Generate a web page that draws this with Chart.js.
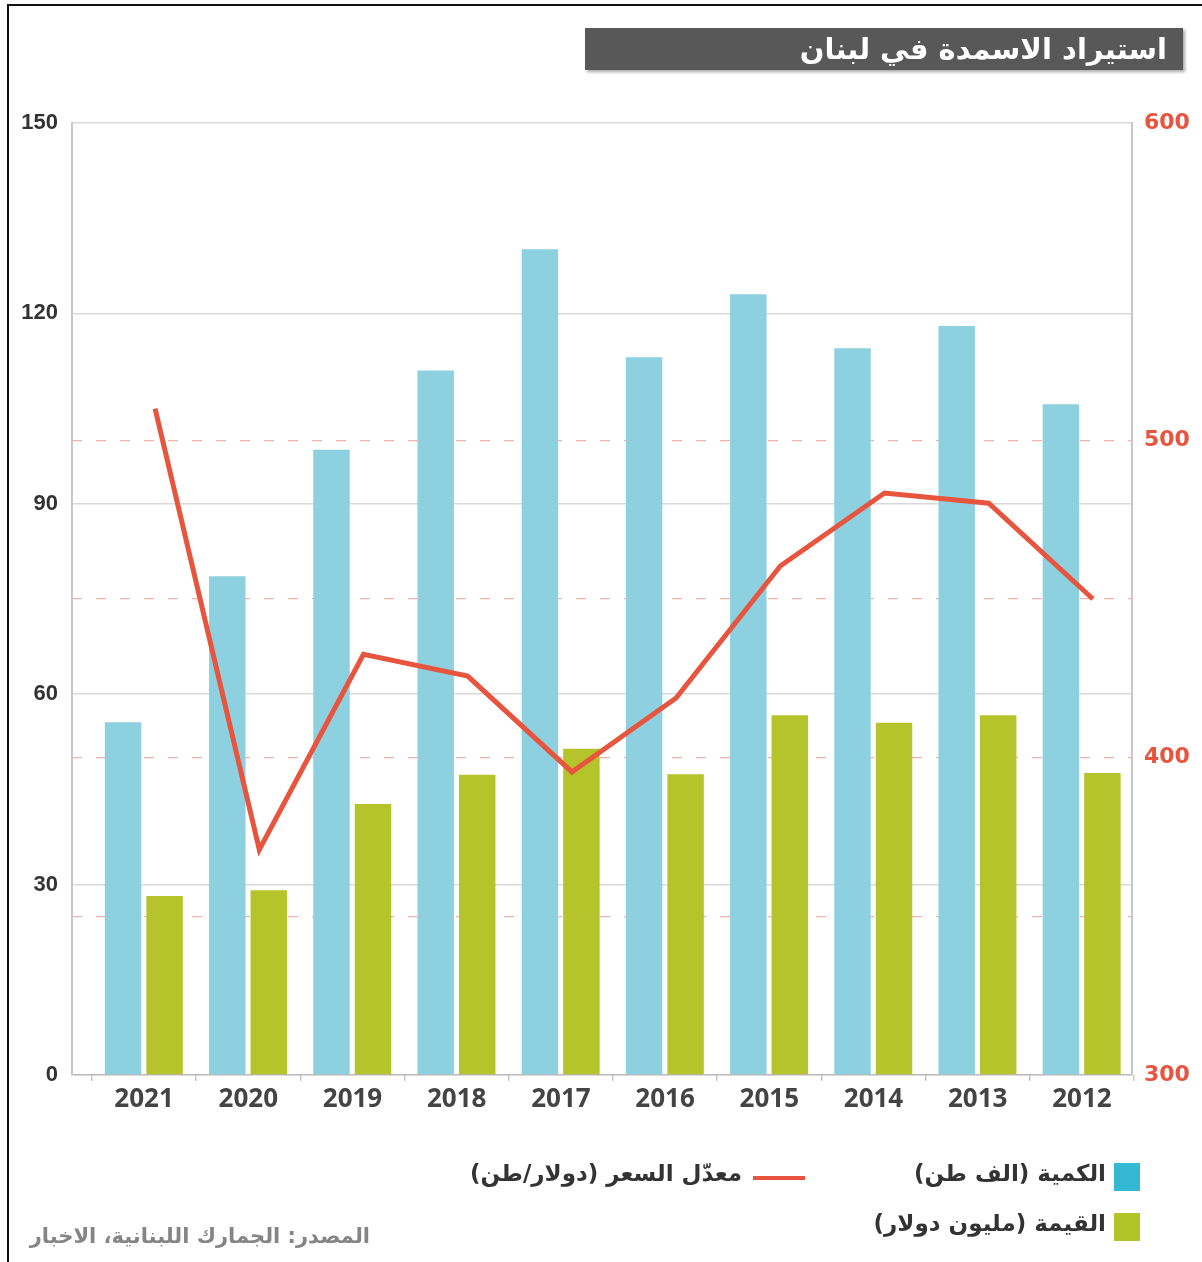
<!DOCTYPE html>
<html lang="ar">
<head>
<meta charset="utf-8">
<script src="https://cdn.jsdelivr.net/npm/chart.js@4.4.1/dist/chart.umd.min.js"></script>
<style>
    html, body { margin: 0; padding: 0; background: #fff; }
    #page { position: relative; width: 1202px; height: 1262px; overflow: hidden; font-family: "DejaVu Sans", sans-serif; }
    #cadre { position: absolute; left: 7px; top: 4px; right: -10px; bottom: -10px; border-left: 2px solid #111; border-top: 2px solid #111; }
    #chart { position: absolute; left: 0; top: 0; }
    .titre { position: absolute; left: 585px; top: 28px; width: 598px; height: 42px; background: #585858;
             box-shadow: 2px 2px 3px rgba(0,0,0,0.35); color: #fff; font-weight: bold; font-size: 29px;
             line-height: 42px; text-align: right; padding-right: 16px; box-sizing: border-box; direction: rtl; }
    .leg { position: absolute; direction: rtl; font-weight: bold; font-size: 23px; color: #333; white-space: nowrap; }
    .carre { position: absolute; width: 26px; height: 28px; }
    .trait { position: absolute; height: 4px; background: #e8553f; }
    .source { position: absolute; direction: rtl; font-weight: bold; font-size: 21px; color: #858585; white-space: nowrap; }
</style>
</head>
<body>
<div id="page">
    <div id="cadre"></div>
    <canvas id="chart" width="1202" height="1262"></canvas>
    <div class="titre">استيراد الاسمدة في لبنان</div>

    <div class="carre" style="left:1114px; top:1163px; background:#35b9d3;"></div>
    <div class="leg" style="right:96px; top:1160px;">الكمية (الف طن)</div>
    <div class="carre" style="left:1114px; top:1213px; background:#b3c42b;"></div>
    <div class="leg" style="right:96px; top:1210px;">القيمة (مليون دولار)</div>
    <div class="trait" style="left:753px; top:1176px; width:52px;"></div>
    <div class="leg" style="right:460px; top:1160px;">معدّل السعر (دولار/طن)</div>

    <div class="source" style="right:832px; top:1224px;">المصدر: الجمارك اللبنانية، الاخبار</div>
</div>

<script>
// Données
const annees = ['2021', '2020', '2019', '2018', '2017', '2016', '2015', '2014', '2013', '2012'];
const quantite = [55.6, 78.6, 98.5, 111, 130.1, 113.1, 123, 114.5, 118, 105.7];   // الف طن
const valeur = [28.2, 29.1, 42.7, 47.3, 51.4, 47.4, 56.7, 55.5, 56.7, 47.6];       // مليون دولار
const prix = [510, 371, 432.6, 425.7, 395.5, 418.8, 460.4, 483.4, 480.2, 450];     // دولار/طن

const ticksGauche = [0, 30, 60, 90, 120, 150];
const ticksDroite = [300, 400, 500, 600];
const lignesPointillees = [350, 400, 450, 500];

const bleu = '#8dd0e0';
const vert = '#b5c42b';
const rouge = '#e8553f';

// chaque série a son propre axe x caché, décalé de quelques pixels
const decalage = {
    id: 'decalage',
    afterLayout(chart) {
        const x = chart.scales.x;
        x.left += 20;
        x.right += 2;
        x.configure();
        const poser = (id, dx) => {
            const s = chart.scales[id];
            s.left = x.left + dx;
            s.right = x.right + dx;
            s.configure();
        };
        poser('xq', -21);
        poser('xv', 20.5);
        poser('x2', 11);
    }
};

const axeCache = { type: 'category', display: false, offset: true };

new Chart(document.getElementById('chart'), {
    type: 'bar',
    data: {
        labels: annees,
        datasets: [
            {
                label: 'الكمية (الف طن)',
                data: quantite,
                backgroundColor: bleu,
                yAxisID: 'y',
                xAxisID: 'xq',
                grouped: false,
                order: 2,
                barPercentage: 1,
                categoryPercentage: 0.35
            },
            {
                label: 'القيمة (مليون دولار)',
                data: valeur,
                backgroundColor: vert,
                yAxisID: 'y',
                xAxisID: 'xv',
                grouped: false,
                order: 2,
                barPercentage: 1,
                categoryPercentage: 0.35
            },
            {
                type: 'line',
                label: 'معدّل السعر (دولار/طن)',
                data: prix,
                borderColor: rouge,
                borderWidth: 5,
                pointRadius: 0,
                tension: 0,
                yAxisID: 'y1',
                xAxisID: 'x2',
                order: 0
            }
        ]
    },
    options: {
        responsive: false,
        animation: false,
        layout: { padding: { top: 123, bottom: 137, left: 0, right: 0 } },
        plugins: {
            legend: { display: false },
            tooltip: { enabled: false }
        },
        scales: {
            x: {
                type: 'category',
                offset: true,
                grid: { display: true, drawOnChartArea: false, offset: true, color: '#c8c8c8', lineWidth: 1.5, tickLength: 6 },
                border: { display: false },
                ticks: { color: '#444', font: { family: 'Open Sans', size: 26, weight: 'bold' }, padding: 3, maxRotation: 0 },
                afterFit: (s) => { s.height = 50; }
            },
            xq: axeCache,
            xv: axeCache,
            x2: axeCache,
            y: {
                position: 'left',
                min: 0,
                max: 150,
                afterBuildTicks: (s) => { s.ticks = ticksGauche.map(v => ({ value: v })); },
                grid: {
                    color: (c) => c.tick.value === 0 ? '#b8b8b8' : '#d9d9d9',
                    lineWidth: 1.5,
                    drawTicks: false
                },
                border: { display: true, color: '#c8c8c8', width: 2 },
                ticks: { color: '#333', font: { family: 'Liberation Sans', size: 22, weight: 'bold' }, padding: 14 },
                afterFit: (s) => { s.width = 72; }
            },
            y1: {
                position: 'right',
                min: 300,
                max: 600,
                afterBuildTicks: (s) => {
                    const vals = [...new Set([...ticksDroite, ...lignesPointillees])].sort((a, b) => a - b);
                    s.ticks = vals.map(v => ({ value: v }));
                },
                grid: {
                    drawOnChartArea: true,
                    drawTicks: false,
                    color: (c) => lignesPointillees.includes(c.tick.value) ? 'rgba(232,85,63,0.45)' : 'rgba(0,0,0,0)',
                    lineWidth: 1.2
                },
                border: { display: true, color: '#c8c8c8', width: 2, dash: [10, 14] },
                ticks: {
                    color: rouge,
                    font: { family: 'DejaVu Sans', size: 22, weight: 'bold' },
                    padding: 12,
                    callback: (v) => ticksDroite.includes(v) ? v : ''
                },
                afterFit: (s) => { s.width = 70; }
            }
        }
    },
    plugins: [decalage]
});
</script>
</body>
</html>
